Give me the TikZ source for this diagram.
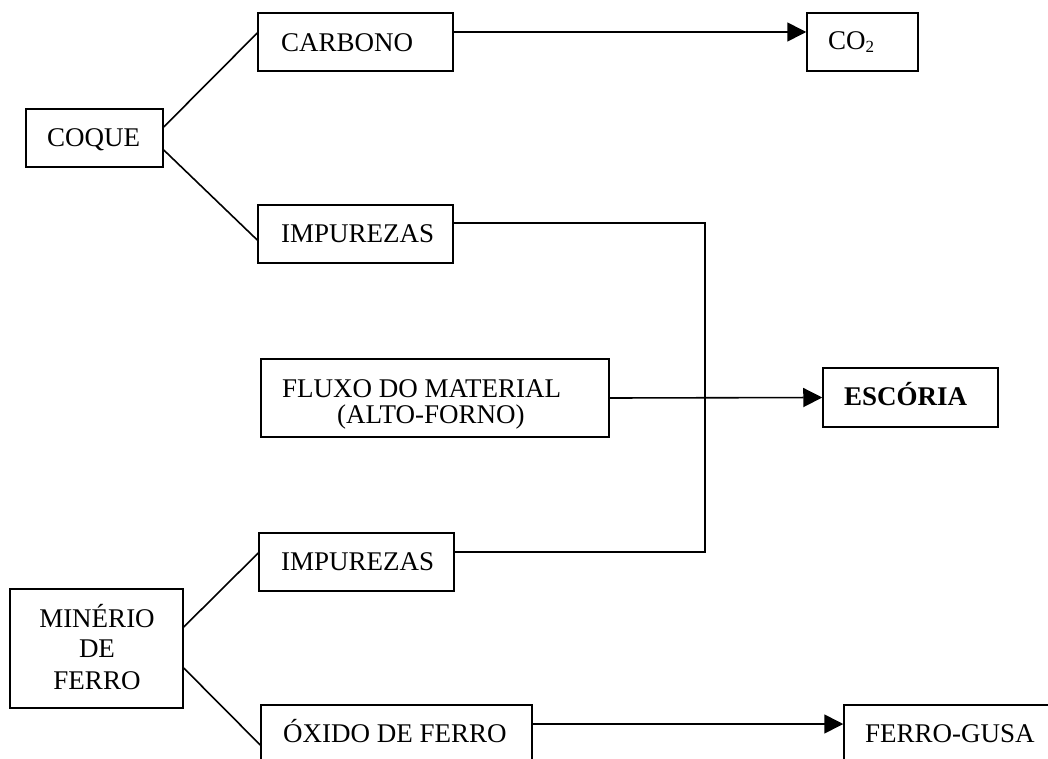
\documentclass[tikz,border=0pt]{standalone}
\usepackage{fontspec}
\setmainfont{Liberation Serif}
\usetikzlibrary{arrows.meta,fit}
\begin{document}
\begin{tikzpicture}[x=1bp,y=-1bp,
  box/.style={draw,line width=1.5bp,inner sep=0pt},
  lbl/.style={anchor=base west,inner sep=0pt,font=\fontsize{27bp}{30bp}\selectfont},
  clbl/.style={lbl,anchor=base},
  link/.style={line width=1.6bp},
  flow/.style={link,-{Triangle[length=19bp,width=19bp]}}]
\path[use as bounding box,fill=white] (0,0) rectangle (1048,759);
\clip (0,0) rectangle (1048,759);

% boxes
\node[box,fit={(26,109)(163,167)}] (coque) {};
\node[box,fit={(258,13)(453,71)}] (carb) {};
\node[box,fit={(807,13)(918,71)}] (co2) {};
\node[box,fit={(258,205)(453,263)}] (imp1) {};
\node[box,fit={(261,359)(609,437)}] (fluxo) {};
\node[box,fit={(823,368)(998,427)}] (esc) {};
\node[box,fit={(259,533)(454,591)}] (imp2) {};
\node[box,fit={(10,589)(183,708)}] (miner) {};
\node[box,fit={(261,705)(532,765)}] (oxido) {};
\node[box,fit={(844,705)(1100,765)}] (gusa) {};

% labels
\node[lbl] (tcoque) at (47,146) {COQUE};
\node[lbl] (tcarb) at (281,52) {CARBONO};
\node[lbl] (tco2) at (828,50) {CO\raisebox{-3bp}{\fontsize{17bp}{20bp}\selectfont 2}};
\node[lbl] (timp1) at (281,242) {IMPUREZAS};
\node[lbl] (tflux1) at (282,397) {FLUXO DO MATERIAL};
\node[lbl] (tflux2) at (337,423) {(ALTO-FORNO)};
\node[lbl,font=\fontsize{27bp}{30bp}\selectfont\bfseries] (tesc) at (844,405) {ESCÓRIA};
\node[lbl] (timp2) at (281,570) {IMPUREZAS};
\node[clbl] (tmin1) at (97,627) {MINÉRIO};
\node[clbl] (tmin2) at (97,657) {DE};
\node[clbl] (tmin3) at (97,689) {FERRO};
\node[lbl] (toxi) at (283,742) {ÓXIDO DE FERRO};
\node[lbl] (tgusa) at (865,742) {FERRO-GUSA};

% branches
\draw[link] ([yshift=11bp]coque.east) -- ([yshift=9bp]carb.west);
\draw[link] ([yshift=-12bp]coque.east) -- ([yshift=-6bp]imp1.west);
\draw[link] ([yshift=21.5bp]miner.east) -- ([yshift=9bp]imp2.west);
\draw[link] ([yshift=-19.5bp]miner.east) -- ([yshift=-10bp]oxido.west);

% products
\draw[flow] ([yshift=10bp]carb.east) -- ([yshift=10bp]co2.west);
\draw[flow] (fluxo.east) -- (esc.west);
\draw[flow] ([yshift=11bp]oxido.east) -- ([yshift=11bp]gusa.west);

% impurities collector
\coordinate (jtop) at (705,223);
\coordinate (jbot) at (705,552);
\draw[link] ([yshift=11bp]imp1.east) -- (jtop) -- (jbot) -- ([yshift=10bp]imp2.east);
\end{tikzpicture}
\end{document}
